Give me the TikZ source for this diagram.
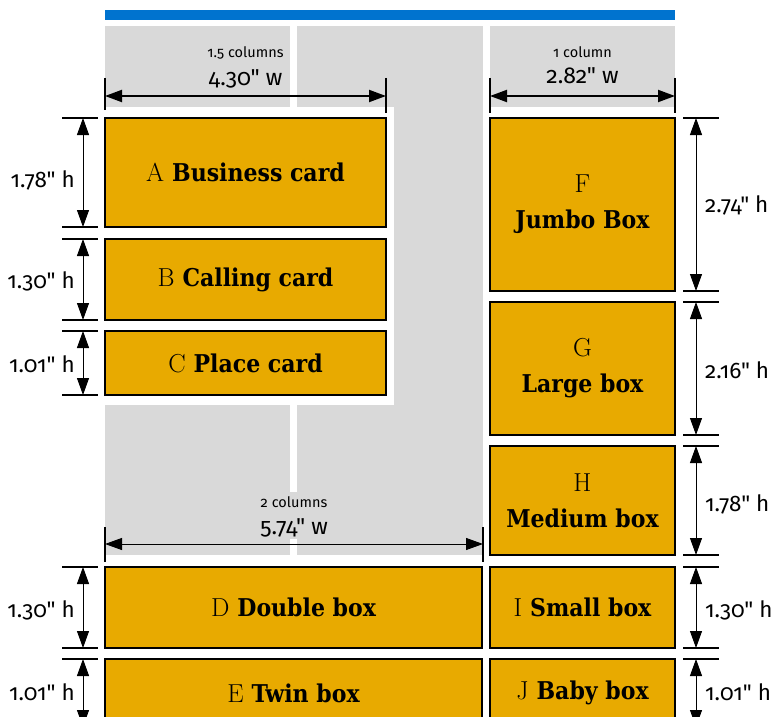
\documentclass[tikz,border=0pt]{standalone}
\usepackage{fontspec}
\newfontfamily\dimfont[Numbers=OldStyle]{Fira Sans}
\newfontfamily\slabfont{DejaVu Serif Condensed}
\usetikzlibrary{arrows.meta}
\definecolor{boxorange}{RGB}{232,170,0}
\definecolor{bggray}{RGB}{217,217,217}
\definecolor{topblue}{RGB}{0,115,207}
\newcommand{\ltr}[1]{{\rmfamily\fontsize{26}{28}\selectfont #1}}
\newcommand{\nm}[1]{{\slabfont\bfseries\fontsize{24.5}{28}\selectfont #1}}
\newcommand{\gap}{\hspace{8pt}}
\tikzset{
  card/.style={draw=black, line width=2.5pt, fill=boxorange, anchor=north west,
    inner sep=0pt, outer sep=0pt, align=center},
  thincard/.style={card, line width=1.8pt},
  dimarr/.style={{Triangle[length=17pt,width=12pt]}-{Triangle[length=17pt,width=12pt]}, line width=1pt},
  dimarrthick/.style={dimarr, line width=2pt},
  tick/.style={line width=1.3pt},
  small/.style={font=\dimfont\fontsize{14.5}{16}\selectfont, anchor=base, inner sep=0pt},
  wlab/.style={font=\dimfont\fontsize{23}{25}\selectfont, anchor=base, inner sep=0pt},
  hlabL/.style={font=\dimfont\fontsize{22.5}{25}\selectfont, anchor=base east, inner sep=0pt},
  hlabR/.style={font=\dimfont\fontsize{22.5}{25}\selectfont, anchor=base west, inner sep=0pt},
}
\begin{document}
\begin{tikzpicture}[x=1pt,y=-1pt]
\useasboundingbox (0,0) rectangle (777,717);
% blue bar
\fill[topblue] (105,10) rectangle (675,20);
% gray backgrounds
\fill[bggray] (105,26) rectangle (483,555);
\fill[white] (0,107) rectangle (394,405);
\fill[white] (290,26) rectangle (297,107);
\fill[white] (290,405) rectangle (297,492);
\fill[white] (290,539) rectangle (297,555);
\fill[bggray] (490,26) rectangle (675,107);

% boxes
\node[card, minimum width=281pt, minimum height=109pt] (A) at (105,118) {\ltr{A}\gap\nm{Business card}};
\node[card, minimum width=281pt, minimum height=81pt] (B) at (105,239) {\ltr{B}\gap\nm{Calling card}};
\node[card, minimum width=281pt, minimum height=64pt] (C) at (105,331) {\ltr{C}\gap\nm{Place card}};
\node[thincard, minimum width=185pt, minimum height=173pt] (F) at (490,118) {\ltr{F}\\[16pt]\nm{Jumbo Box}};
\node[thincard, minimum width=185pt, minimum height=133pt] (G) at (490,302) {\ltr{G}\\[16pt]\nm{Large box}};
\node[thincard, minimum width=185pt, minimum height=109pt] (H) at (490,446) {\ltr{H}\\[16pt]\nm{Medium box}};
\node[thincard, minimum width=377pt, minimum height=81pt] (D) at (105,567) {\ltr{D}\gap\nm{Double box}};
\node[thincard, minimum width=377pt, minimum height=68pt] (E) at (105,659) {\ltr{E}\gap\nm{Twin box}};
\node[thincard, minimum width=185pt, minimum height=81pt] (I) at (490,567) {\ltr{I}\gap\nm{Small box}};
\node[thincard, minimum width=185pt, minimum height=68pt] (J) at (490,659) {\ltr{J}\gap\nm{Baby box}};

% top width dimension (1.5 columns)
\coordinate (w1a) at (105,96); \coordinate (w1b) at (386,96);
\draw[line width=1.3pt] (105,78) -- (105,110) (386,78) -- (386,113);
\draw[dimarrthick] (w1a) -- (w1b);
\node[small] (w1s) at (245.5,58) {1.5 columns};
\node[wlab] (w1l) at (245.5,85) {4.30" w};

% top width dimension (1 column)
\coordinate (w2a) at (490,96); \coordinate (w2b) at (675,96);
\draw[line width=1.3pt] (490,78) -- (490,113) (675,78) -- (675,113);
\draw[dimarrthick] (w2a) -- (w2b);
\node[small] (w2s) at (582.5,58) {1 column};
\node[wlab] (w2l) at (582.5,84) {2.82" w};

% bottom width dimension (2 columns)
\coordinate (w3a) at (105,544); \coordinate (w3b) at (483,544);
\draw[line width=1.1pt] (105,527) -- (105,562) (483,527) -- (483,562);
\draw[dimarr] (w3a) -- (w3b);
\node[small] (w3s) at (294,507) {2 columns};
\node[wlab] (w3l) at (294,534) {5.74" w};

% left height dimensions
\foreach \y in {118,227,239,320,331,395}
  \draw[tick] (62,\y) -- (98,\y);
\foreach \y in {567,648,659}
  \draw[line width=2.3pt] (62,\y) -- (98,\y);
\coordinate (hA1) at (83,118); \coordinate (hA2) at (83,227);
\coordinate (hB1) at (83,239); \coordinate (hB2) at (83,320);
\coordinate (hC1) at (83,331); \coordinate (hC2) at (83,395);
\coordinate (hD1) at (83,567); \coordinate (hD2) at (83,648);
\coordinate (hE1) at (83,659); \coordinate (hE2) at (83,727);
\draw[dimarr] (hA1) -- (hA2);
\draw[dimarr] (hB1) -- (hB2);
\draw[dimarr] (hC1) -- (hC2);
\draw[dimarr] (hD1) -- (hD2);
\draw[dimarr] (hE1) -- (hE2);
\node[hlabL] (lA) at (75,187) {1.78" h};
\node[hlabL] (lB) at (75,288) {1.30" h};
\node[hlabL] (lC) at (75,372) {1.01" h};
\node[hlabL] (lD) at (75,617) {1.30" h};
\node[hlabL] (lE) at (75,700) {1.01" h};

% right height dimensions
\foreach \y in {118,291,302,435,446,555}
  \draw[tick] (683,\y) -- (719,\y);
\foreach \y in {648,659}
  \draw[line width=2.3pt] (683,\y) -- (719,\y);
\draw[tick] (683,567) -- (719,567);
\coordinate (hF1) at (696,118); \coordinate (hF2) at (696,291);
\coordinate (hG1) at (696,302); \coordinate (hG2) at (696,435);
\coordinate (hH1) at (696,446); \coordinate (hH2) at (696,555);
\coordinate (hI1) at (696,567); \coordinate (hI2) at (696,648);
\coordinate (hJ1) at (696,659); \coordinate (hJ2) at (696,727);
\draw[dimarr] (hF1) -- (hF2);
\draw[dimarr] (hG1) -- (hG2);
\draw[dimarr] (hH1) -- (hH2);
\draw[dimarr] (hI1) -- (hI2);
\draw[dimarr] (hJ1) -- (hJ2);
\node[hlabR] (lF) at (705,212) {2.74" h};
\node[hlabR] (lG) at (705,378) {2.16" h};
\node[hlabR] (lH) at (705,511) {1.78" h};
\node[hlabR] (lI) at (705,617) {1.30" h};
\node[hlabR] (lJ) at (705,700) {1.01" h};
\end{tikzpicture}
\end{document}
